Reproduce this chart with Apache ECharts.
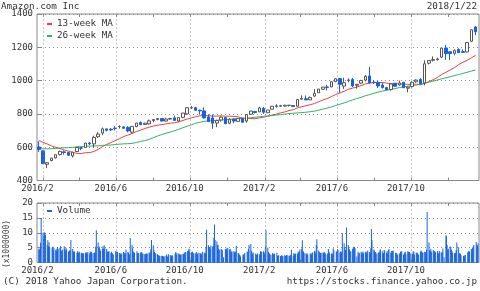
<!DOCTYPE html>
<html><head><meta charset="utf-8">
<script src="https://cdn.jsdelivr.net/npm/echarts@6/dist/echarts.min.js"></script>
<style>html,body{margin:0;padding:0;background:#fff}#c{width:480px;height:291px}</style>
</head><body><div id="c"></div>
<script>
// ---- data (weekly candles, Monday of each week, first week 2016-01-25) ----
const firstWeek = [2016, 0, 25];
const open = [601,578,497,520,536,556,572,568,548,574,
  596,598,625,620,663,685,710,708,714,724,
  722,719,690,724,748,736,740,760,766,772,
  757,769,776,757,779,800,837,837,822,818,
  782,776,745,763,778,744,768,755,774,757,
  798,815,812,833,807,828,848,846,847,851,
  850,846,888,891,884,907,927,948,962,962,
  994,1012,967,1002,1006,972,985,1003,1028,990,
  989,973,958,946,984,974,990,954,964,993,
  1007,986,1105,1122,1126,1141,1196,1173,1164,1187,
  1174,1172,1236,1322];
const close = [587,502,507,534,555,575,568,552,570,598,
  594,625,620,659,679,710,702,704,712,725,
  714,698,725,745,735,744,758,766,772,757,
  769,772,761,778,805,837,837,822,818,776,
  755,744,760,780,741,768,757,772,750,796,
  817,808,836,810,823,846,845,849,852,852,
  845,886,894,884,898,924,949,961,959,993,
  1011,978,987,1003,968,978,1001,1025,987,988,
  968,958,946,980,966,986,957,961,990,1003,
  982,1101,1121,1126,1130,1195,1162,1162,1180,1168,
  1169,1229,1305,1294];
const low = [572,500,474,515,532,550,555,547,538,570,
  582,595,612,600,656,672,695,698,700,712,
  710,690,682,720,733,735,735,750,762,755,
  753,765,760,753,774,795,830,818,797,773,
  754,710,720,754,740,738,744,755,748,747,
  795,803,812,800,807,828,837,842,844,845,
  840,844,887,884,883,903,926,945,941,961,
  990,927,950,989,961,952,981,995,981,980,
  956,953,941,940,961,968,956,930,958,988,
  978,971,1097,1115,1120,1135,1125,1124,1152,1167,
  1166,1170,1232,1273];
const high = [635,581,510,537,556,579,580,572,572,600,
  601,626,632,669,690,718,712,714,726,731,
  725,726,726,747,755,747,766,767,774,774,
  777,774,789,780,806,840,847,843,826,839,
  798,796,765,784,780,774,774,773,774,799,
  818,817,843,842,823,847,858,854,855,853,
  850,890,911,910,905,949,950,962,975,998,
  1013,1016,1017,1013,1016,980,1004,1034,1083,1001,
  998,990,962,984,986,1000,990,965,995,1008,
  1015,1122,1123,1145,1137,1195,1214,1175,1187,1194,
  1187,1230,1307,1327];
const ma13 = [641,629,619,608,599,592,584,576,569,563,
  562,567,568,574,587,603,616,628,639,651,
  664,673,682,694,702,712,720,727,732,736,
  740,744,747,752,761,769,776,783,789,790,
  789,787,787,788,786,786,785,782,775,772,
  772,771,776,780,786,793,798,806,812,820,
  825,836,843,849,855,862,873,884,892,904,
  916,926,936,948,955,961,970,980,985,988,
  988,988,985,982,981,981,978,977,978,978,
  975,984,994,1006,1019,1036,1050,1064,1078,1096,
  1110,1122,1137,1152];
const ma26 = [591,590,590,591,593,595,597,597,599,603,
  603,606,606,608,608,611,612,613,616,618,
  620,621,623,628,634,640,647,657,667,676,
  684,691,699,708,717,726,735,743,750,755,
  758,759,762,764,765,767,769,771,772,774,
  777,780,783,785,787,790,793,796,799,802,
  804,806,808,810,813,817,822,829,835,842,
  850,858,866,875,884,892,900,909,916,924,
  931,937,942,947,952,958,962,966,970,974,
  977,984,991,997,1004,1011,1017,1023,1030,1036,
  1043,1050,1057,1064];
// daily volume (x1,000,000), Mon..Fri per week, 0 = market closed
const volume = [
 [4.6,4.2,4.8,6.6,15.0],[10.0,8.8,10.2,10.0,9.3],[6.0,7.5,5.5,6.8,5.2],[0,5.0,5.3,4.3,4.9],[4.3,3.9,4.6,5.2,4.6],
 [5.0,5.5,4.0,3.7,4.4],[5.5,4.5,4.0,5.0,4.4],[3.6,3.8,4.0,4.3,7.6],[4.5,3.5,3.9,3.6,0],[3.2,3.8,3.3,3.4,3.6],
 [3.3,3.1,3.0,3.2,3.0],[3.1,3.5,3.2,3.0,3.5],[3.1,3.7,3.2,3.6,3.1],[3.2,3.3,3.4,5.4,10.8],[6.7,4.9,5.4,4.5,3.9],
 [4.5,5.5,4.6,5.8,4.8],[4.5,3.7,3.6,3.5,3.9],[3.1,3.6,3.2,2.9,2.7],[0,3.9,3.6,3.3,3.6],[3.2,3.0,2.9,2.6,3.1],
 [3.5,3.3,3.1,3.0,4.4],[3.5,3.4,2.8,2.8,8.2],[6.0,4.8,3.7,3.4,3.3],[0,3.8,3.0,3.2,3.2],[3.4,3.1,3.5,2.9,3.0],
 [2.8,2.9,2.8,3.0,3.0],[3.3,3.0,3.5,4.5,7.6],[5.8,4.3,3.5,3.1,3.0],[2.8,2.5,2.4,2.3,2.2],[2.3,2.2,2.0,2.0,2.1],
 [2.3,2.7,1.9,2.0,2.8],[2.5,2.3,2.0,2.5,2.3],[0,3.0,3.5,2.6,3.2],[3.0,2.8,2.6,2.5,2.8],[2.9,2.8,3.0,3.4,3.5],
 [3.5,3.9,4.1,4.7,3.8],[3.4,3.6,3.6,3.0,3.1],[3.1,3.5,3.0,2.8,3.3],[3.2,2.9,3.0,2.7,3.6],[3.4,3.0,3.2,5.3,11.0],
 [5.8,5.2,5.1,4.5,5.7],[5.4,5.6,8.3,12.8,7.6],[7.1,5.8,6.0,4.6,4.3],[4.5,4.4,4.1,0,1.8],[4.5,4.6,4.3,5.0,4.8],
 [4.4,4.6,4.0,3.5,3.7],[3.8,3.4,3.6,3.6,5.6],[3.2,3.1,2.7,2.5,2.0],[0,2.6,2.7,2.7,3.2],[0,3.7,3.5,4.5,5.9],
 [6.2,3.9,3.3,2.7,3.4],[0,3.0,2.5,2.7,3.0],[2.8,2.7,3.8,3.7,3.5],[3.8,3.4,3.0,5.1,10.9],[5.0,3.5,3.2,2.9,2.6],
 [2.6,3.2,2.8,2.9,2.9],[0,3.3,2.3,2.3,2.4],[2.2,2.1,2.5,2.0,2.2],[2.4,2.3,2.2,2.5,2.4],[2.3,2.1,2.6,2.3,4.3],
 [2.3,3.1,2.8,3.0,2.9],[2.9,3.7,3.2,3.6,4.4],[4.6,7.5,3.9,3.6,3.2],[3.0,2.8,3.0,2.6,0],[3.0,2.9,2.7,3.3,3.4],
 [3.9,3.7,3.1,6.0,7.8],[4.0,3.6,3.1,3.2,3.3],[3.3,3.2,3.5,3.4,3.0],[2.6,3.1,4.5,3.7,3.1],[2.9,3.1,2.8,4.8,4.0],
 [0,3.6,3.7,4.5,4.2],[3.4,3.6,3.8,3.3,9.8],[6.5,5.1,4.3,3.6,11.8],[5.9,4.7,4.4,3.8,3.7],[4.5,5.0,5.3,5.2,4.8],
 [2.0,0,3.6,3.0,3.3],[3.6,3.0,3.3,3.7,3.1],[3.5,3.7,3.0,3.5,4.0],[3.5,3.4,4.8,11.3,7.5],[4.4,4.0,3.4,3.5,3.0],
 [3.1,3.4,3.4,4.0,4.4],[3.8,3.0,3.1,4.2,4.0],[3.3,3.8,2.9,4.2,4.5],[3.3,3.9,3.0,3.9,4.0],[0,3.3,3.2,3.0,2.6],
 [2.8,3.2,3.6,3.7,3.8],[2.6,2.9,3.4,3.6,2.8],[3.8,3.6,3.5,3.5,3.0],[2.8,2.9,3.8,3.6,2.7],[3.4,2.9,3.3,2.8,2.6],
 [3.6,4.0,3.7,3.4,3.3],[3.6,3.5,3.4,4.3,17.0],[6.7,4.1,4.0,4.6,3.6],[4.2,3.6,3.9,3.7,3.4],[3.9,3.0,3.1,3.9,3.5],
 [3.4,3.6,4.7,0,1.8],[9.2,8.8,5.9,4.2,4.6],[5.4,5.2,4.3,3.8,3.3],[3.1,3.2,3.3,4.2,6.7],[5.1,3.2,2.9,2.9,2.4],
 [0,2.2,2.4,2.0,2.5],[0,3.4,3.9,3.6,3.7],[4.5,4.0,5.0,5.4,5.9],[0,6.9,5.8,5.6,6.4]];
const gridMonths = ['2016/2','2016/6','2016/10','2017/2','2017/6','2017/10'];
const tickMonths = ['2016/2','2016/4','2016/6','2016/8','2016/10','2016/12','2017/2','2017/4','2017/6','2017/8','2017/10','2017/12'];

// ---- build ----
const DAY = 86400000;
const t0 = Date.UTC(firstWeek[0], firstWeek[1], firstWeek[2]);
const wk = i => t0 + i * 7 * DAY;
const candles = open.map((o, i) => [wk(i), o, close[i], low[i], high[i]]);
const ma13Data = ma13.map((v, i) => [wk(i), v]);
const ma26Data = ma26.map((v, i) => [wk(i), v]);
const volData = [];
volume.forEach((w, i) => w.forEach((v, d) => { if (v > 0) volData.push([wk(i) + d * DAY, v]); }));
const mts = s => { const [y, m] = s.split('/').map(Number); return Date.UTC(y, m - 1, 1); };
const gridTs = gridMonths.map(mts);
const tickTs = tickMonths.map(mts);
const labelOf = {}; gridMonths.forEach((s, i) => labelOf[gridTs[i]] = s);

const xMin = Date.UTC(2016, 0, 22, 2, 24);
const xMax = Date.UTC(2018, 0, 20, 14, 0);
const mono = '"DejaVu Sans Mono","Liberation Mono",monospace';
const txt = '#333';
const axisGray = '#888';
const dotted = { color: '#8c8c8c', type: [1, 3], width: 1 };

function xAxes(g) {
  return [
    { type: 'value', gridIndex: g, min: xMin, max: xMax, scale: true, axisLine: { show: false },
      axisTick: { show: true, inside: true, length: 3, customValues: tickTs, lineStyle: { color: axisGray } },
      axisLabel: { customValues: gridTs, formatter: v => labelOf[v] || '', fontFamily: mono, fontSize: 9, color: txt, margin: 4, padding: [0, 11, 0, 0], hideOverlap: false },
      splitLine: { show: false } },
    { type: 'value', gridIndex: g, position: 'top', min: xMin, max: xMax, scale: true, axisLine: { show: false },
      axisTick: { show: true, inside: true, length: 3, customValues: tickTs, lineStyle: { color: axisGray } },
      axisLabel: { show: false }, splitLine: { show: false } }
  ];
}
const vGrid = {
  silent: true, symbol: ['none', 'none'], label: { show: false }, animation: false,
  lineStyle: dotted, emphasis: { disabled: true },
  data: gridTs.map(t => ({ xAxis: t }))
};
const titleStyle = { fontFamily: mono, fontSize: 9.3, fontWeight: 'normal', color: txt };

const chart = echarts.init(document.getElementById('c'), null, { renderer: 'canvas' });
chart.setOption({
  animation: false,
  backgroundColor: '#fff',
  title: [
    { text: 'Amazon.com Inc', left: 1, top: 2, padding: 0, textStyle: titleStyle },
    { text: '2018/1/22', right: 3, top: 2, padding: 0, textStyle: titleStyle },
    { text: '(C) 2018 Yahoo Japan Corporation.', left: 3, top: 277, padding: 0, textStyle: titleStyle },
    { text: 'https://stocks.finance.yahoo.co.jp', right: 3, top: 277, padding: 0, textStyle: titleStyle }
  ],
  legend: [
    { data: ['13-week MA', '26-week MA'], left: 47, top: 19, orient: 'vertical', padding: 0, itemGap: 2,
      icon: 'rect', itemWidth: 5, itemHeight: 2, selectedMode: false,
      textStyle: { fontFamily: mono, fontSize: 9.3, color: txt, lineHeight: 10 } },
    { data: ['Volume'], left: 47, top: 206, padding: 0, icon: 'rect', itemWidth: 5, itemHeight: 2, selectedMode: false,
      textStyle: { fontFamily: mono, fontSize: 9.3, color: txt, lineHeight: 10 } }
  ],
  grid: [
    { left: 37, right: 1, top: 14, height: 166.5, show: true, borderColor: axisGray, borderWidth: 1, backgroundColor: 'transparent' },
    { left: 37, right: 1, top: 203, height: 59.5, show: true, borderColor: axisGray, borderWidth: 1, backgroundColor: 'transparent' }
  ],
  xAxis: [...xAxes(0), ...xAxes(1)],
  yAxis: [
    { type: 'value', gridIndex: 0, min: 400, max: 1400, interval: 200, axisLine: { show: false },
      axisTick: { show: true, inside: true, length: 4, lineStyle: { color: axisGray } },
      axisLabel: { fontFamily: mono, fontSize: 9, color: txt, margin: 4, formatter: v => String(v) },
      splitLine: { show: true, lineStyle: dotted } },
    { type: 'value', gridIndex: 1, min: 0, max: 20, interval: 5, axisLine: { show: false },
      axisTick: { show: true, inside: true, length: 4, lineStyle: { color: axisGray } },
      axisLabel: { fontFamily: mono, fontSize: 9, color: txt, margin: 4, formatter: v => String(v) },
      splitLine: { show: true, lineStyle: dotted } }
  ],
  graphic: [
    { type: 'text', x: 7, y: 244, rotation: Math.PI / 2, silent: true,
      style: { text: '(x1000000)', font: '8px ' + mono, fill: txt, align: 'center', verticalAlign: 'middle' } }
  ],
  series: [
    { type: 'line', name: '13-week MA', xAxisIndex: 0, yAxisIndex: 0, data: ma13Data, showSymbol: false, z: 2,
      lineStyle: { color: '#ee4040', width: 1 }, itemStyle: { color: '#ee4040' } },
    { type: 'line', name: '26-week MA', xAxisIndex: 0, yAxisIndex: 0, data: ma26Data, showSymbol: false, z: 2,
      lineStyle: { color: '#33b06a', width: 1 }, itemStyle: { color: '#33b06a' } },
    { type: 'candlestick', name: 'price', xAxisIndex: 0, yAxisIndex: 0, data: candles, barWidth: 3, z: 3,
      itemStyle: { color: '#ffffff', color0: '#1a5fe0', borderColor: '#555555', borderColor0: '#1a5fe0', borderWidth: 1 },
      markLine: vGrid },
    { type: 'bar', name: 'Volume', xAxisIndex: 2, yAxisIndex: 1, data: volData, barWidth: 1, z: 3,
      itemStyle: { color: '#1764dc' }, markLine: vGrid }
  ]
});
</script></body></html>
